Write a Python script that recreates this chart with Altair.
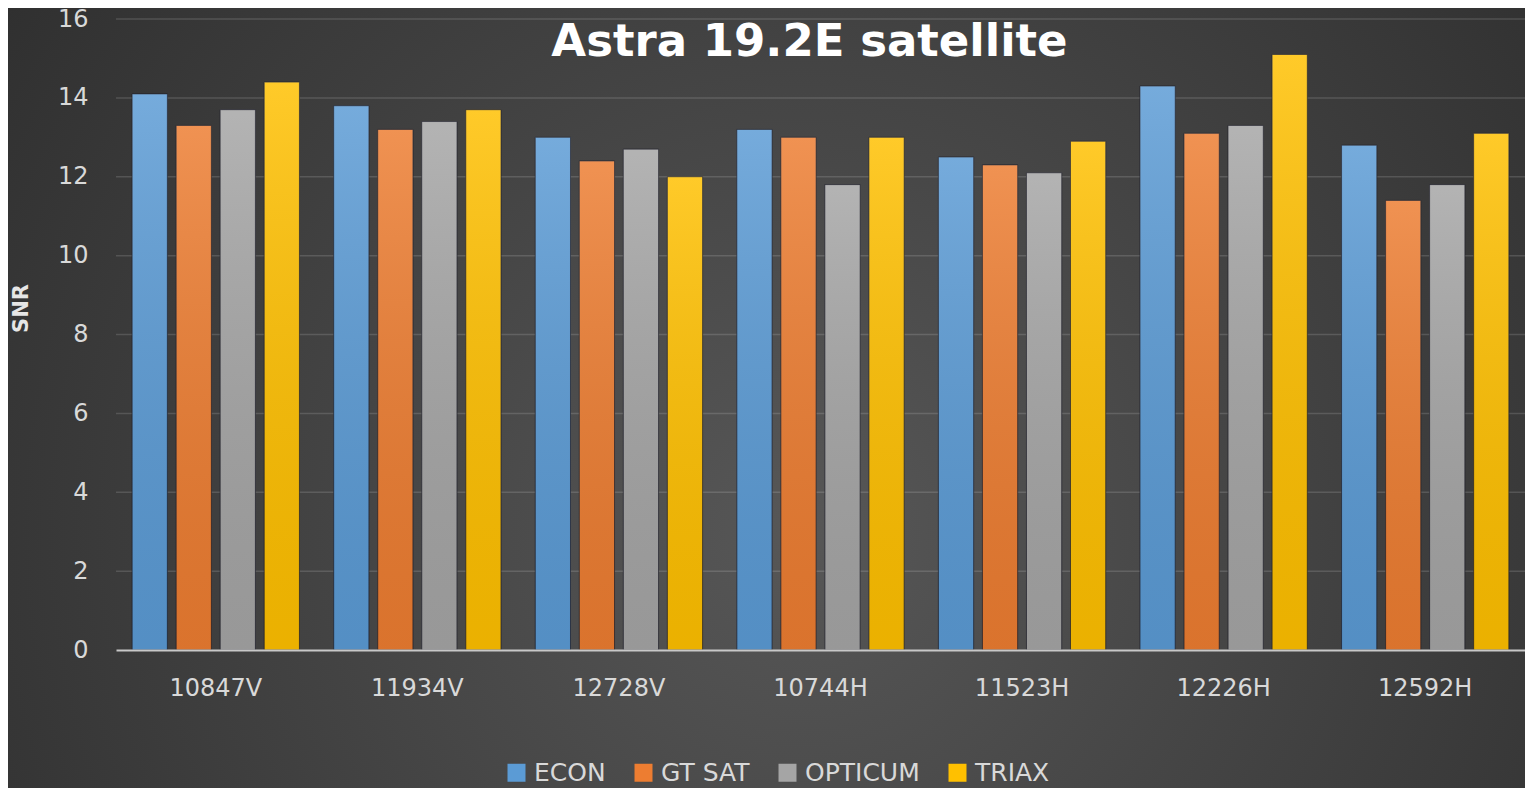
import altair as alt
import pandas as pd

title_text = "Astra 19.2E satellite"
freqs = ["10847V", "11934V", "12728V", "10744H", "11523H", "12226H", "12592H"]
brands = ["ECON", "GT SAT", "OPTICUM", "TRIAX"]
econ = [14.1, 13.8, 13.0, 13.2, 12.5, 14.3, 12.8]
gtsat = [13.3, 13.2, 12.4, 13.0, 12.3, 13.1, 11.4]
opticum = [13.7, 13.4, 12.7, 11.8, 12.1, 13.3, 11.8]
triax = [14.4, 13.7, 12.0, 13.0, 12.9, 15.1, 13.1]
colors = ["#5B9BD5", "#ED7D31", "#A5A5A5", "#FFC000"]
yticks = [2, 4, 6, 8, 10, 12, 14, 16]

rows = []
for i, f in enumerate(freqs):
    for b, vals in zip(brands, [econ, gtsat, opticum, triax]):
        rows.append({"freq": f, "brand": b, "snr": vals[i]})
df = pd.DataFrame(rows)
grid_df = pd.DataFrame({"snr": yticks})

W, H = 1409, 631
FONT = "DejaVu Sans"

x_enc = alt.X("freq:N", sort=freqs,
              scale=alt.Scale(paddingInner=0.17, paddingOuter=0.08),
              axis=alt.Axis(title=None, labelAngle=0, labelFont=FONT, labelFontSize=24,
                            labelColor="#d9d9d9", labelPadding=26, ticks=False,
                            domainColor="#c8c8c8", domainWidth=2, zindex=1))
xoff_enc = alt.XOffset("brand:N", sort=brands,
                       scale=alt.Scale(domain=brands, paddingInner=0.2, paddingOuter=0))
y_enc = alt.Y("snr:Q", scale=alt.Scale(domain=[0, 16], nice=False),
              axis=alt.Axis(values=[0] + yticks, title="SNR", grid=False, domain=False,
                            ticks=False, labelFont=FONT, labelFontSize=24,
                            labelColor="#d9d9d9", labelPadding=28,
                            titleFont=FONT, titleFontSize=21, titleFontWeight="bold",
                            titleColor="#e6e6e6", titleX=-95, titleY=289,
                            titleAlign="center", titleBaseline="middle", zindex=1))

bg = alt.Chart(alt.Data(values=[{"a": 1}])).mark_rect(
    fill=alt.Gradient(gradient="radial",
                      stops=[alt.GradientStop(color="#575757", offset=0),
                             alt.GradientStop(color="#2a2a2a", offset=1)],
                      x1=0.52, y1=0.58, r1=0, x2=0.52, y2=0.58, r2=0.72)
).encode(x=alt.value(-108), x2=alt.value(W + 10), y=alt.value(-12), y2=alt.value(H + 160))

grid = alt.Chart(grid_df).mark_rule(color="#ffffff", opacity=0.14, strokeWidth=1.5).encode(y=y_enc)

bars = alt.Chart(df).mark_bar(stroke="#1c1c28", strokeWidth=1, strokeOpacity=0.7).encode(
    x=x_enc, xOffset=xoff_enc, y=y_enc,
    color=alt.Color("brand:N", sort=brands,
                    scale=alt.Scale(domain=brands, range=colors),
                    legend=alt.Legend(title=None, orient="none", direction="horizontal",
                                      legendX=388, legendY=741, symbolType="square",
                                      symbolSize=324, symbolStrokeWidth=0,
                                      labelFont=FONT, labelFontSize=25, labelColor="#d9d9d9",
                                      labelOffset=5, columnPadding=25, padding=0))
)

shade = alt.Chart(df).mark_bar(
    fill=alt.Gradient(gradient="linear",
                      stops=[alt.GradientStop(color="rgba(255,255,255,0.16)", offset=0),
                             alt.GradientStop(color="rgba(0,0,0,0.08)", offset=1)],
                      x1=0, y1=0, x2=0, y2=1)
).encode(x=x_enc, xOffset=xoff_enc, y=y_enc)

title = alt.Chart(alt.Data(values=[{"t": title_text}])).mark_text(
    font=FONT, fontSize=45, fontWeight="bold", color="#ffffff",
    align="center", baseline="alphabetic"
).encode(text="t:N", x=alt.value(W / 2 - 11), y=alt.value(37))

chart = alt.layer(bg, grid, bars, shade, title).properties(
    width=W, height=H,
    autosize=alt.AutoSizeParams(type="none"),
    padding={"left": 108, "top": 11, "right": 0, "bottom": 138},
).configure(background="#2e2e2e").configure_view(stroke=None)

chart.save("out.html", embed_options={"renderer": "svg", "actions": False})
